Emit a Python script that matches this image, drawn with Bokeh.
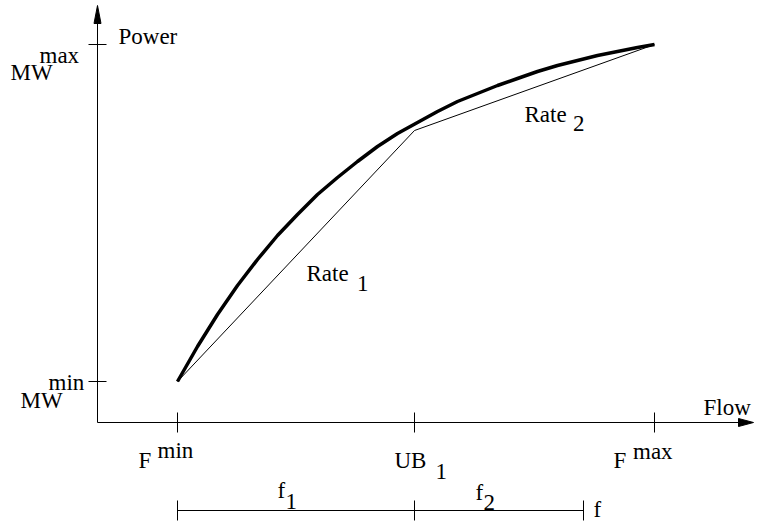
from bokeh.plotting import figure
from bokeh.models import Range1d
from bokeh.core.properties import value
from bokeh.embed import file_html
from bokeh.resources import INLINE

# ---- data (diagram units: origin at the axes' crossing) ----
flow_marks = [80, 317, 557]            # F_min, UB_1, F_max
power_marks = [41, 378]                # MW_min, MW_max
f_end = 486                            # end of the f bracket

curve_flow = [80, 100, 120, 140, 160, 180, 200, 220, 240, 260, 280, 300, 320,
              340, 360, 380, 400, 420, 440, 460, 480, 500, 520, 540, 557]
curve_power = [41, 76, 108, 137, 163, 187, 208, 228, 245, 261, 276, 289, 300,
               311, 321, 329, 337, 344, 351, 357, 362, 367, 371, 375, 378]

rate_flow = [80, 317, 557]
rate_power = [41, 292, 378]

FONT = value("Liberation Serif")
FS = "23px"

p = figure(width=757, height=525, output_backend="svg", toolbar_location=None,
           x_range=Range1d(-97, 660), y_range=Range1d(-103, 422),
           min_border=0, min_border_left=0, min_border_right=0,
           min_border_top=0, min_border_bottom=0)
p.axis.visible = False
p.grid.visible = False
p.outline_line_color = None
p.background_fill_color = "white"
p.border_fill_color = "white"

# axes
x_tip, y_tip = 656, 417
p.segment(x0=[0, 0], y0=[0, 0], x1=[x_tip - 8, 0], y1=[0, y_tip - 8],
          line_color="black", line_width=1)
p.patch(x=[x_tip, x_tip - 15, x_tip - 15], y=[0, 4, -4], color="black")
p.patch(x=[0, -3.5, 3.5], y=[y_tip, y_tip - 18, y_tip - 18], color="black")

# ticks on the flow axis
p.segment(x0=flow_marks, y0=[10] * 3, x1=flow_marks, y1=[-10] * 3,
          line_color="black", line_width=1)
# ticks on the power axis
p.segment(x0=[-9] * 2, y0=power_marks, x1=[9] * 2, y1=power_marks,
          line_color="black", line_width=1)

# piecewise linear rates
p.line(rate_flow, rate_power, line_color="black", line_width=1)
# true curve
p.line(curve_flow, curve_power, line_color="black", line_width=3.5,
       line_join="round")

# bracket f1 / f2
by = -88
p.segment(x0=[flow_marks[0]], y0=[by], x1=[f_end], y1=[by], line_color="black", line_width=1)
bx = [flow_marks[0], flow_marks[1], f_end]
p.segment(x0=bx, y0=[by + 10] * 3, x1=bx, y1=[by - 10] * 3, line_color="black", line_width=1)

# labels: (text, x, y)
labels = [
    ("Power", 21, 386),
    ("MW", -87, 350), ("max", -58, 367.5),
    ("MW", -77, 22), ("min", -49, 40),
    ("Flow", 606, 15),
    ("F", flow_marks[0] - 39, -38), ("min", flow_marks[0] - 20, -28),
    ("UB", flow_marks[1] - 20, -37.5), ("1", flow_marks[1] + 21, -49),
    ("F", flow_marks[2] - 41, -38), ("max", flow_marks[2] - 21.5, -29),
    ("Rate", 209, 149), ("1", 259.5, 139),
    ("Rate", 427, 308), ("2", 475.5, 299),
    ("f", 180, -68), ("1", 188, -79),
    ("f", 378, -69.5), ("2", 386, -79.5),
    ("f", f_end + 10, -87),
]
for t, x, y in labels:
    p.text(x=[x], y=[y], text=[t],
           text_font=FONT, text_font_size=FS, text_color="black",
           text_align="left", text_baseline="alphabetic")

open("out.html", "w").write(file_html(p, INLINE))
